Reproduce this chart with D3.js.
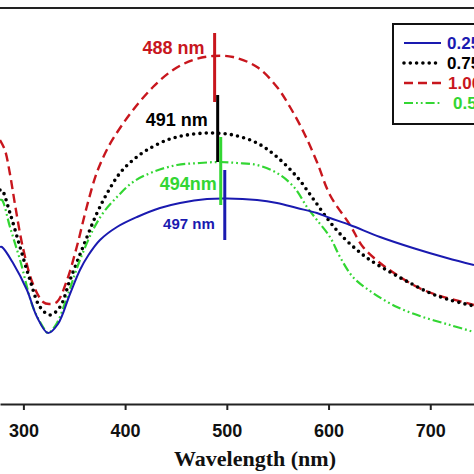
<!DOCTYPE html>
<html>
<head>
<meta charset="utf-8">
<script src="https://cdn.jsdelivr.net/npm/d3@7"></script>
<style>
  html, body { margin: 0; padding: 0; background: #fff; overflow: hidden; }
  svg { display: block; }
</style>
</head>
<body>
<svg id="chart" width="474" height="474"></svg>
<script>
// ---- data (wavelength in nm, absorbance in arbitrary units) ----
const xTicks = [300, 400, 500, 600, 700];
const seriesNames = ["0.25", "0.75", "1.00", "0.50"];

const red100 = [
  [277, 1.32], [281.8, 1.27], [286.8, 1.15], [292, 0.99], [299.6, 0.78], [309.4, 0.60],
  [319.3, 0.51], [325.2, 0.50], [333, 0.51], [342.9, 0.62], [352.7, 0.79], [362, 0.98],
  [372.4, 1.16], [384, 1.29], [395, 1.38], [407.8, 1.47], [427.4, 1.585], [447.1, 1.67],
  [466.7, 1.72], [486.4, 1.74], [506.1, 1.735], [529.7, 1.685], [549.3, 1.585],
  [562.1, 1.485], [575.9, 1.355], [588.6, 1.21], [601.4, 1.045], [621.1, 0.895],
  [633.9, 0.785], [650.6, 0.705], [667.3, 0.645], [687, 0.585], [706.6, 0.545],
  [732.2, 0.51], [743, 0.495]
];
const black075 = [
  [277, 1.07], [278.9, 1.07], [286.8, 0.955], [296.7, 0.785], [306.5, 0.62], [316.3, 0.485],
  [326.2, 0.445], [336, 0.485], [345.8, 0.62], [358.6, 0.785], [372.4, 0.955],
  [383, 1.06], [395, 1.155], [407.8, 1.22], [421.5, 1.27], [441.2, 1.32], [460.8, 1.345],
  [483.5, 1.355], [506.1, 1.345], [529.7, 1.305], [549.3, 1.235], [569, 1.135],
  [585.7, 1.02], [601.4, 0.91], [614.2, 0.835], [628, 0.77], [640.7, 0.72],
  [660.4, 0.66], [680.1, 0.605], [699.7, 0.555], [719.4, 0.52], [743, 0.49]
];
const green050 = [
  [277, 1.02], [278.9, 1.02], [286.8, 0.885], [296.7, 0.72], [309.4, 0.485], [319.3, 0.385],
  [324.2, 0.355], [333, 0.405], [342.9, 0.535], [355.6, 0.72], [368.4, 0.87],
  [378.3, 0.955], [392, 1.035], [407.8, 1.11], [427.4, 1.16], [451, 1.195],
  [473.6, 1.205], [493.3, 1.21], [510, 1.205], [529.7, 1.195], [549.3, 1.155],
  [566, 1.085], [578.8, 0.985], [588.6, 0.92], [601.4, 0.835], [611.3, 0.735],
  [624, 0.635], [643.7, 0.555], [667.3, 0.485], [692.8, 0.435], [719.4, 0.395], [743, 0.36]
];
const blue025 = [
  [277, 0.785], [278.9, 0.785], [289.8, 0.705], [303.5, 0.57], [313.4, 0.435],
  [324.2, 0.355], [334, 0.40], [345.8, 0.55], [355.6, 0.67], [364, 0.745],
  [375.3, 0.82], [392, 0.885], [411.7, 0.935], [434.3, 0.98], [454, 1.005],
  [480.5, 1.025], [500.2, 1.028], [529.7, 1.02], [549.3, 1.005], [569, 0.98],
  [588.6, 0.955], [601.4, 0.93], [621.1, 0.895], [650.6, 0.835], [683, 0.78],
  [716.4, 0.73], [743, 0.695]
];

// peak markers: wavelength, top value, bottom value
const peakNm = [488, 491, 494, 497];
const peakTop = [1.855, 1.545, 1.335, 1.17];
const peakBottom = [1.51, 1.21, 0.995, 0.82];
const peakLabels = ["488 nm", "491 nm", "494nm", "497 nm"];

// ---- styles ----
const colors = { blue: "#1a1ab0", black: "#000000", red: "#c8161d", green: "#33d633" };

const svg = d3.select("#chart");
const W = 474, H = 474;
const x = d3.scaleLinear().domain([277, 743]).range([0, 474]);
const y = d3.scaleLinear().domain([0, 1.98]).range([404, 8]);

const series = [
  { name: seriesNames[0], data: blue025, color: colors.blue, width: 2, dash: null, cap: "butt" },
  { name: seriesNames[1], data: black075, color: colors.black, width: 3.6, dash: "0,6.3", cap: "round" },
  { name: seriesNames[2], data: red100, color: colors.red, width: 2.4, dash: "9,5", cap: "butt" },
  { name: seriesNames[3], data: green050, color: colors.green, width: 2.2, dash: "9,3,1.8,3,1.8,3", cap: "butt" }
];

const line = d3.line().x(d => x(d[0])).y(d => y(d[1])).curve(d3.curveCatmullRom.alpha(0.5));

// top frame line
svg.append("line").attr("x1", 0).attr("x2", W).attr("y1", y.range()[1]).attr("y2", y.range()[1])
  .attr("stroke", "#222").attr("stroke-width", 2);

// curves (draw red, black, green, blue order)
const drawOrder = [2, 1, 3, 0];
drawOrder.forEach(i => {
  const s = series[i];
  svg.append("path").datum(s.data)
    .attr("d", line)
    .attr("fill", "none")
    .attr("stroke", s.color)
    .attr("stroke-width", s.width)
    .attr("stroke-dasharray", s.dash)
    .attr("stroke-linecap", s.cap);
});

// peak markers
const peakColors = [colors.red, colors.black, colors.green, colors.blue];
peakNm.forEach((p, i) => {
  svg.append("line")
    .attr("x1", x(p) + (i === 3 ? 1 : 0)).attr("x2", x(p) + (i === 3 ? 1 : 0))
    .attr("y1", y(peakTop[i])).attr("y2", y(peakBottom[i]))
    .attr("stroke", peakColors[i]).attr("stroke-width", 3);
});

// peak labels
const labelDx = [-10, -10, -4, -9];
const labelDy = [21, 31, 53, 59];
const labelSize = [18, 18, 18, 15];
peakLabels.forEach((t, i) => {
  svg.append("text")
    .attr("x", x(peakNm[i]) + labelDx[i])
    .attr("y", y(peakTop[i]) + labelDy[i])
    .attr("text-anchor", "end")
    .attr("font-family", "Arial, 'Liberation Sans', sans-serif")
    .attr("font-weight", "bold")
    .attr("font-size", labelSize[i])
    .attr("fill", peakColors[i])
    .text(t);
});

// x axis
const xAxis = d3.axisBottom(x).tickValues(xTicks).tickSize(6).tickSizeOuter(0).tickPadding(14);
const gx = svg.append("g").attr("transform", `translate(0,${y.range()[0]})`).call(xAxis);
gx.select(".domain").attr("stroke", "#222").attr("stroke-width", 2);
gx.selectAll(".tick line").attr("stroke", "#222").attr("stroke-width", 2);
gx.selectAll(".tick text")
  .attr("font-family", "Arial, 'Liberation Sans', sans-serif")
  .attr("font-weight", "bold")
  .attr("font-size", 18)
  .attr("fill", "#111");

// axis title
svg.append("text")
  .attr("x", 255).attr("y", 466)
  .attr("text-anchor", "middle")
  .attr("font-family", "'Times New Roman', 'Liberation Serif', serif")
  .attr("font-weight", "bold")
  .attr("font-size", 22)
  .attr("fill", "#111")
  .text("Wavelength (nm)");

// legend (right side of the box lies beyond the picture edge, as in the original crop)
const lg = svg.append("g").attr("transform", "translate(393,24)");
lg.append("rect").attr("x", 0).attr("y", 0).attr("width", 120).attr("height", 100)
  .attr("fill", "#fff").attr("stroke", "#111").attr("stroke-width", 2);
series.forEach((s, i) => {
  const yy = 19 + i * 20;
  lg.append("line").attr("x1", 11).attr("x2", 48).attr("y1", yy).attr("y2", yy)
    .attr("stroke", s.color).attr("stroke-width", s.width)
    .attr("stroke-dasharray", s.dash).attr("stroke-linecap", s.cap);
  lg.append("text")
    .attr("x", i === 3 ? 60 : (i === 2 ? 55 : 54)).attr("y", yy + 6)
    .attr("font-family", "Arial, 'Liberation Sans', sans-serif")
    .attr("font-weight", "bold")
    .attr("font-size", 17)
    .attr("fill", s.color)
    .text(s.name);
});
</script>
</body>
</html>
